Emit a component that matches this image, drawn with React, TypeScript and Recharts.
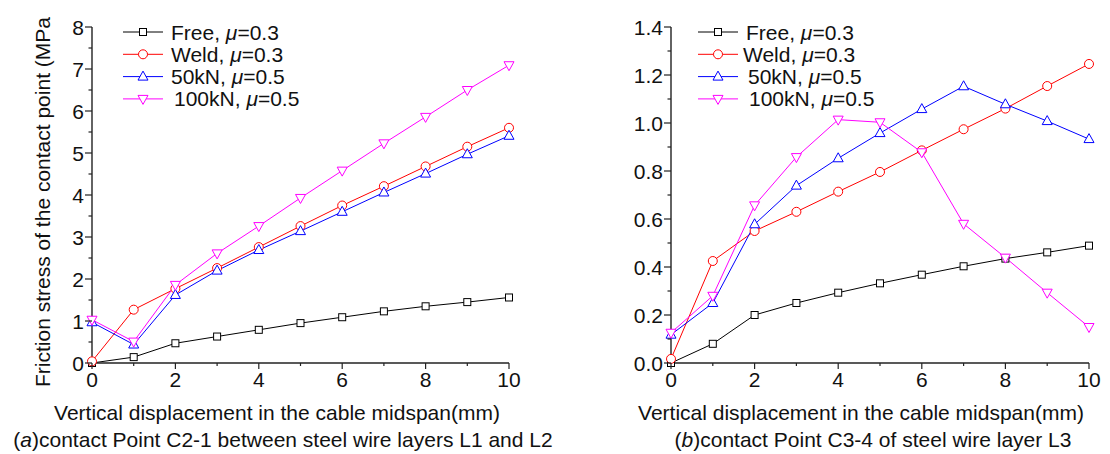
import React from 'react';
import { LineChart, Line, XAxis, YAxis, Legend } from 'recharts';

// displacement (mm)
const xValues = [0, 1, 2, 3, 4, 5, 6, 7, 8, 9, 10];

// (a) contact point C2-1, friction stress (MPa)
const freeA = [0, 0.14, 0.47, 0.63, 0.79, 0.95, 1.09, 1.23, 1.35, 1.45, 1.56];
const weldA = [0.04, 1.27, 1.77, 2.26, 2.76, 3.26, 3.75, 4.21, 4.68, 5.15, 5.6];
const kn50A = [0.97, 0.44, 1.62, 2.2, 2.69, 3.14, 3.6, 4.06, 4.51, 4.97, 5.41];
const kn100A = [1.03, 0.51, 1.86, 2.61, 3.26, 3.93, 4.58, 5.23, 5.86, 6.5, 7.09];

// (b) contact point C3-4
const freeB = [0.0, 0.08, 0.2, 0.25, 0.293, 0.332, 0.368, 0.403, 0.435, 0.461, 0.489];
const weldB = [0.017, 0.425, 0.55, 0.63, 0.714, 0.796, 0.886, 0.974, 1.06, 1.154, 1.246];
const kn50B = [0.118, 0.25, 0.578, 0.739, 0.853, 0.958, 1.058, 1.153, 1.078, 1.008, 0.933];
const kn100B = [0.126, 0.28, 0.657, 0.858, 1.014, 1.003, 0.878, 0.58, 0.439, 0.293, 0.15];

const xTicks = [0, 1, 2, 3, 4, 5, 6, 7, 8, 9, 10];
const yTicksA = [0, 0.5, 1, 1.5, 2, 2.5, 3, 3.5, 4, 4.5, 5, 5.5, 6, 6.5, 7, 7.5, 8];
const yTicksB = [0, 0.1, 0.2, 0.3, 0.4, 0.5, 0.6, 0.7, 0.8, 0.9, 1.0, 1.1, 1.2, 1.3, 1.4];

const seriesNames = ['Free', 'Weld', '50kN', '100kN'];
const seriesMu = ['0.3', '0.3', '0.5', '0.5'];
const seriesColors = ['#000000', '#ff0000', '#0000ff', '#ff00ff'];
const seriesKeys = ['free', 'weld', 'kn50', 'kn100'];

const FONT = '"Liberation Sans", Arial, sans-serif';
const AXIS = '#222';

const dataA = xValues.map((x, i) => ({ x, free: freeA[i], weld: weldA[i], kn50: kn50A[i], kn100: kn100A[i] }));
const dataB = xValues.map((x, i) => ({ x, free: freeB[i], weld: weldB[i], kn50: kn50B[i], kn100: kn100B[i] }));

const Marker = ({ kind, cx, cy, color }: any) => {
  if (cx == null || cy == null) return null;
  if (kind === 0) return <rect x={cx - 3.5} y={cy - 3.5} width={7} height={7} fill="#fff" stroke={color} strokeWidth={1} />;
  if (kind === 1) return <circle cx={cx} cy={cy} r={4.5} fill="#fff" stroke={color} strokeWidth={1} />;
  if (kind === 2)
    return <path d={`M${cx},${cy - 5.5} L${cx + 5},${cy + 3.5} L${cx - 5},${cy + 3.5} Z`} fill="#fff" stroke={color} strokeWidth={1} />;
  return <path d={`M${cx},${cy + 5.5} L${cx + 5},${cy - 3.5} L${cx - 5},${cy - 3.5} Z`} fill="#fff" stroke={color} strokeWidth={1} />;
};

const XTick = ({ x, y, payload }: any) => {
  const major = payload.value % 2 === 0;
  return (
    <g>
      <line x1={x} x2={x} y1={y} y2={y + (major ? 6 : 3)} stroke={AXIS} strokeWidth={1.2} />
      {major && (
        <text x={x} y={y + 24} textAnchor="middle" fontFamily={FONT} fontSize={21} fill="#111">
          {payload.value}
        </text>
      )}
    </g>
  );
};

const makeYTick = (isMajor: (v: number) => boolean, fmt: (v: number) => string) => ({ x, y, payload }: any) => {
  const major = isMajor(payload.value);
  return (
    <g>
      <line x1={x} x2={x - (major ? 7 : 3.5)} y1={y} y2={y} stroke={AXIS} strokeWidth={1.2} />
      {major && (
        <text x={x - 8} y={y + 7.5} textAnchor="end" fontFamily={FONT} fontSize={21} fill="#111">
          {fmt(payload.value)}
        </text>
      )}
    </g>
  );
};

const YTickA = makeYTick((v) => Number.isInteger(v), (v) => String(v));
const YTickB = makeYTick((v) => Math.round(v * 10) % 2 === 0, (v) => v.toFixed(1));

const XTitle = ({ cx1, cx2, tag, rest }: any) => (
  <g fontFamily={FONT} fontSize={21} fill="#111">
    <text x={cx1} y={420} textAnchor="middle">Vertical displacement in the cable midspan(mm)</text>
    <text x={cx2} y={447} textAnchor="middle">
      (<tspan fontStyle="italic">{tag}</tspan>){rest}
    </text>
  </g>
);

const YTitle = () => (
  <text x={50} y={387} transform="rotate(-90 50 387)" fontFamily={FONT} fontSize={21} fill="#111">
    Friction stress of the contact point (MPa
  </text>
);

const LegendBox = ({ textX }: { textX: number[] }) => (
  <svg width={280} height={100} style={{ display: 'block' }}>
    {seriesNames.map((name, i) => {
      const cy = 14 + 22.3 * i;
      return (
        <g key={name}>
          <line x1={8} x2={48} y1={cy} y2={cy} stroke={seriesColors[i]} strokeWidth={1} />
          <Marker kind={i} cx={28} cy={cy} color={seriesColors[i]} />
          <text x={textX[i]} y={cy + 7.5} fontFamily={FONT} fontSize={21} fill="#111">
            {name}, <tspan fontStyle="italic">μ</tspan>={seriesMu[i]}
          </text>
        </g>
      );
    })}
  </svg>
);

const renderLines = () =>
  seriesKeys.map((k, i) => (
    <Line
      key={k}
      type="linear"
      dataKey={k}
      name={seriesNames[i]}
      stroke={seriesColors[i]}
      strokeWidth={1}
      isAnimationActive={false}
      dot={(p: any) => <Marker key={`${k}-${p.index}`} kind={i} cx={p.cx} cy={p.cy} color={seriesColors[i]} />}
      activeDot={false}
    />
  ));

export default function App() {
  return (
    <div style={{ position: 'absolute', left: 0, top: 0, width: 1110, height: 454, background: '#fff' }}>
      <div style={{ position: 'absolute', left: 0, top: 0 }}>
        <LineChart width={560} height={454} data={dataA} margin={{ top: 27, right: 51, bottom: 61, left: 32 }}>
          <XAxis
            dataKey="x"
            type="number"
            domain={[0, 10]}
            ticks={xTicks}
            interval={0}
            tickSize={0}
            tickMargin={0}
            tick={<XTick />}
            height={30}
            stroke={AXIS}
            strokeWidth={1.4}
            label={<XTitle cx1={277} cx2={283} tag="a" rest="contact Point C2-1 between steel wire layers L1 and L2" />}
          />
          <YAxis
            type="number"
            domain={[0, 8]}
            ticks={yTicksA}
            interval={0}
            width={60}
            tickSize={0}
            tickMargin={0}
            tick={<YTickA />}
            stroke={AXIS}
            strokeWidth={1.4}
            label={<YTitle />}
          />
          <Legend
            layout="vertical"
            align="center"
            verticalAlign="middle"
            wrapperStyle={{ left: 115, top: 18, width: 280, height: 100 }}
            content={() => <LegendBox textX={[56, 56, 56, 59]} />}
          />
          {renderLines()}
        </LineChart>
      </div>
      <div style={{ position: 'absolute', left: 560, top: 0 }}>
        <LineChart width={550} height={454} data={dataB} margin={{ top: 27, right: 21, bottom: 61, left: 51 }}>
          <XAxis
            dataKey="x"
            type="number"
            domain={[0, 10]}
            ticks={xTicks}
            interval={0}
            tickSize={0}
            tickMargin={0}
            tick={<XTick />}
            height={30}
            stroke={AXIS}
            strokeWidth={1.4}
            label={<XTitle cx1={301} cx2={313} tag="b" rest="contact Point C3-4 of steel wire layer L3" />}
          />
          <YAxis
            type="number"
            domain={[0, 1.4]}
            ticks={yTicksB}
            interval={0}
            width={60}
            tickSize={0}
            tickMargin={0}
            tick={<YTickB />}
            stroke={AXIS}
            strokeWidth={1.4}
          />
          <Legend
            layout="vertical"
            align="center"
            verticalAlign="middle"
            wrapperStyle={{ left: 130, top: 18, width: 280, height: 100 }}
            content={() => <LegendBox textX={[56, 53, 58, 59]} />}
          />
          {renderLines()}
        </LineChart>
      </div>
    </div>
  );
}
